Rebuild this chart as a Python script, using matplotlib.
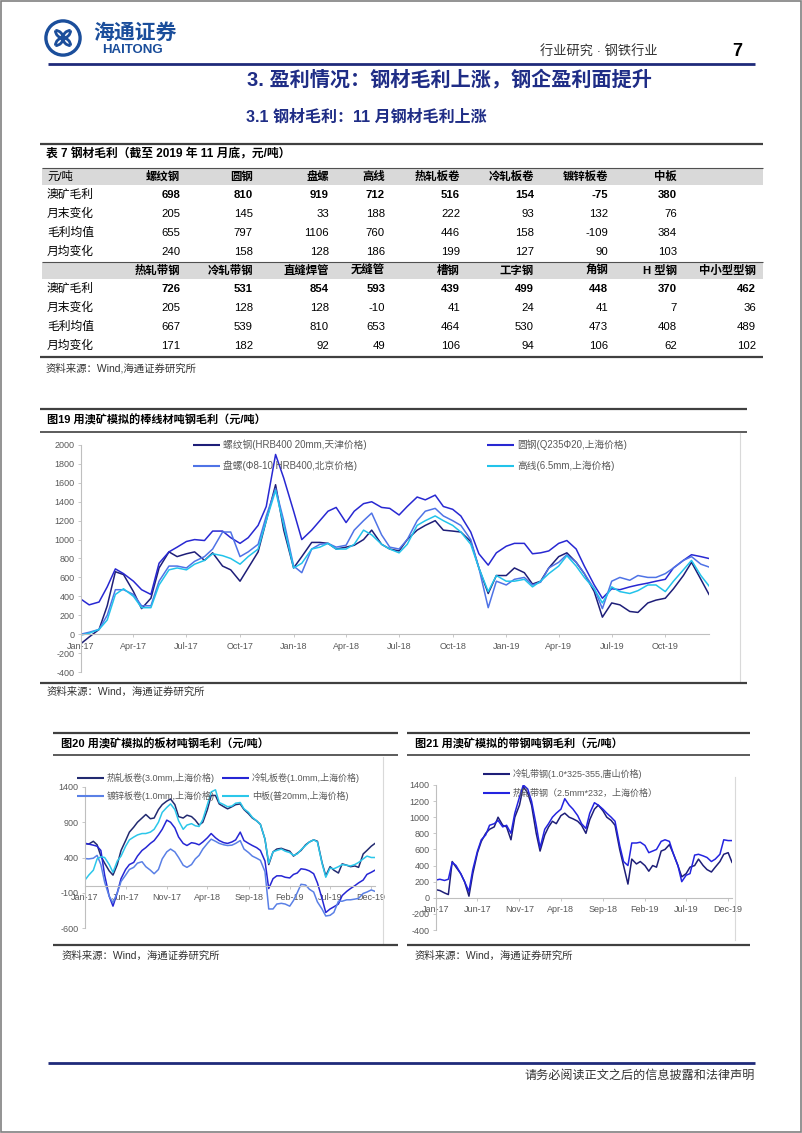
import matplotlib.pyplot as plt
import matplotlib.dates as mdates
from matplotlib.lines import Line2D
from matplotlib.patches import Rectangle, Circle, Arc
import numpy as np
import pandas as pd

W, H = 802, 1133
plt.rcParams['font.family'] = ['Liberation Sans', 'Noto Sans CJK SC']
plt.rcParams['axes.unicode_minus'] = False

NAVY = '#1F2D86'
LOGO = '#1B4E9B'
FRAME = '#404040'
AXIS = '#BFBFBF'
TICK = '#595959'

# ---- table 7 ----
row_labels = ['澳矿毛利', '月末变化', '毛利均值', '月均变化']
cols_a = ['螺纹钢', '圆钢', '盘螺', '高线', '热轧板卷', '冷轧板卷', '镀锌板卷', '中板']
aus_margin_a = [698, 810, 919, 712, 516, 154, -75, 380]
month_chg_a = [205, 145, 33, 188, 222, 93, 132, 76]
avg_margin_a = [655, 797, 1106, 760, 446, 158, -109, 384]
avg_chg_a = [240, 158, 128, 186, 199, 127, 90, 103]
cols_b = ['热轧带钢', '冷轧带钢', '直缝焊管', '无缝管', '槽钢', '工字钢', '角钢', 'H 型钢', '中小型型钢']
aus_margin_b = [726, 531, 854, 593, 439, 499, 448, 370, 462]
month_chg_b = [205, 128, 128, -10, 41, 24, 41, 7, 36]
avg_margin_b = [667, 539, 810, 653, 464, 530, 473, 408, 489]
avg_chg_b = [171, 182, 92, 49, 106, 94, 106, 62, 102]

# ---- chart data, semi-monthly from Jan-17 to mid Dec-19 ----
dates = pd.date_range('2017-01-01', '2019-12-15', freq='SMS')

# fig 19
luowen = [
    -100, -30, 50, 300, 660, 630, 450, 270, 380, 700, 870, 820,
    850, 870, 780, 860, 720, 680, 560, 700, 870, 1200, 1580, 1100,
    700, 820, 970, 970, 960, 900, 920, 940, 1000, 1100, 950, 900,
    880, 1000, 1100, 1150, 1200, 1100, 1090, 1080, 980, 700, 430, 620,
    620, 700, 650, 530, 560, 700, 820, 860, 760, 640, 450, 180,
    330, 310, 240, 230, 330, 360, 380, 480, 620, 760, 580, 420,
]
yuangang = [
    370, 310, 340, 500, 690, 640, 560, 470, 420, 750, 870, 920,
    980, 1000, 990, 1090, 1090, 1020, 960, 1020, 1150, 1350, 1900, 1650,
    1300, 1000, 1100, 1200, 1300, 1340, 1180, 1300, 1380, 1400, 1340, 1330,
    1260, 1350, 1450, 1420, 1470, 1350, 1320, 1250, 1080, 850, 730, 860,
    930, 960, 960, 850, 860, 880, 960, 990, 900, 720, 520, 380,
    480, 470, 500, 520, 540, 560, 580, 700, 780, 840, 820, 800,
]
panluo = [
    0, 20, 50, 200, 470, 470, 420, 300, 300, 560, 720, 720,
    700, 770, 820, 900, 1080, 1080, 820, 870, 950, 1250, 1540, 1200,
    720, 650, 900, 950, 960, 920, 940, 1100, 1200, 1280, 1050, 920,
    900, 1000, 1200, 1300, 1330, 1250, 1200, 1150, 1000, 700, 280, 560,
    520, 580, 600, 520, 550, 700, 760, 840, 760, 640, 480, 270,
    560, 600, 570, 620, 600, 600, 640, 700, 780, 820, 740, 710,
]
gaoxian = [
    -10, 10, 50, 150, 420, 480, 400, 280, 280, 520, 680, 700,
    680, 740, 780, 850, 830, 800, 740, 820, 900, 1200, 1520, 1150,
    700, 750, 900, 920, 960, 900, 900, 950, 1100, 1050, 950, 900,
    860, 950, 1150, 1200, 1250, 1200, 1150, 1080, 950, 700, 450, 620,
    560, 560, 580, 500, 560, 640, 720, 830, 720, 600, 480, 330,
    500, 450, 430, 460, 520, 520, 450, 560, 680, 780, 620, 510,
]

# fig 20
rezha_juan = [
    600, 590, 630, 580, 420, 320, 210, 150, 300, 500, 640, 760,
    830, 900, 960, 1010, 950, 960, 1080, 1150, 1200, 1230, 1150, 980,
    960, 1000, 980, 930, 860, 900, 1080, 1280, 1280, 1160, 1120, 1090,
    1120, 1150, 1160, 1080, 1020, 960, 920, 870, 660, 300, 480, 520,
    530, 510, 490, 420, 460, 500, 580, 620, 650, 630, 330, 140,
    270, 220, 180, 310, 290, 270, 280, 260, 450, 500, 560, 600,
]
lengzha_juan = [
    600, 590, 575, 560, 500, 150, -150, -290, -100, 100, 230, 300,
    330, 420, 500, 540, 600, 640, 720, 800, 930, 900, 820, 690,
    600, 570, 610, 600, 580, 620, 680, 740, 680, 640, 610, 600,
    620, 650, 760, 640, 600, 570, 540, 500, 350, -40, 100, 140,
    140, 120, 110, 160, 180, 240, 230, 210, 170, 40, -180, -380,
    -330, -300, -260, -140, -80, -40, 0, 40, 80, 160, 190, 220,
]
duxin_juan = [
    385, 380, 390, 430, 300, 50, -150, -240, -100, 60, 150, 230,
    260, 320, 340, 270, 220, 170, 230, 380, 480, 520, 480, 400,
    290, 260, 300, 380, 430, 520, 600, 660, 630, 600, 580, 570,
    575, 600, 640, 520, 470, 420, 390, 360, 200, -330, -330, -260,
    -250, -260, -290, -210, -100, 20, 10, -50, -90, -230, -330, -430,
    -420, -380, -220, -220, -200, -200, -190, -180, -110, -90, -60, -80,
]
zhongban = [
    80, 150, 220, 380, 410, 400, 300, 190, 350, 420, 560, 650,
    690, 720, 740, 740, 760, 800, 900, 1040, 1110, 1160, 1080, 920,
    800, 860, 880, 850, 840, 940, 1150, 1330, 1360, 1180, 1150, 1120,
    1130, 1170, 1180, 1090, 1040, 970, 920, 870, 660, 320, 480, 500,
    520, 490, 470, 430, 450, 510, 570, 620, 650, 620, 320, 120,
    250, 240, 270, 300, 290, 280, 300, 330, 380, 420, 400, 400,
]

# fig 21
lengzha_dai = [
    100, 90, 60, 40, 450, 380, 300, 200, 20, 300, 560, 700,
    800, 850, 880, 1000, 900, 880, 720, 1000, 1150, 1380, 1300, 1150,
    800, 580, 780, 880, 950, 920, 1020, 1050, 1000, 980, 950, 900,
    800, 970, 1100, 1150, 1080, 1000, 960, 900, 600, 400, 170, 480,
    420, 450, 400, 330, 400, 380, 580, 600, 660, 550, 400, 260,
    300, 380, 400, 480, 400, 350, 320, 380, 450, 540, 560, 440,
]
rezha_dai = [
    220, 230, 215, 230, 440, 400, 300, 200, 80, 350, 580, 720,
    780, 900, 920, 960, 880, 900, 800, 1050, 1250, 1400, 1350, 1200,
    900, 620, 850, 920, 1000, 1050, 1100, 1230, 1150, 1100, 1020, 920,
    860, 1050, 1180, 1150, 1100, 1050, 1000, 950, 650, 450, 400, 680,
    680, 690, 650, 560, 580, 600, 700, 720, 700, 550, 400, 200,
    280, 300, 530, 540, 520, 500, 450, 480, 540, 720, 710, 710,
]

fig = plt.figure(figsize=(W / 100, H / 100), dpi=100)


def fx(x):
    return x / W


def fy(y):
    return 1 - y / H


def hline(x0, x1, y, lw=1.0, color=FRAME):
    fig.add_artist(Line2D([fx(x0), fx(x1)], [fy(y), fy(y)], lw=lw, color=color,
                          solid_capstyle='butt'))


def vline(x, y0, y1, lw=0.8, color='#D9D9D9'):
    fig.add_artist(Line2D([fx(x), fx(x)], [fy(y0), fy(y1)], lw=lw, color=color))


def text(x, y, s, size, **kw):
    kw.setdefault('va', 'center')
    fig.text(fx(x), fy(y), s, fontsize=size, **kw)


def axes_px(x0, y0, x1, y1):
    return fig.add_axes([fx(x0), fy(y1), (x1 - x0) / W, (y1 - y0) / H])


def legend_item(x, y, color, label, size=6.8):
    hline(x, x + 27, y, lw=1.5, color=color)
    text(x + 30, y, label, size, color=TICK)


def style_chart(ax, ylim, yticks, xticks=None):
    ax.set_facecolor('none')
    ax.set_xlim(dates[0], dates[-1])
    ax.set_ylim(*ylim)
    ax.set_yticks(yticks)
    for side in ('top', 'right'):
        ax.spines[side].set_visible(False)
    ax.spines['bottom'].set_position(('data', 0))
    for side in ('left', 'bottom'):
        ax.spines[side].set_color(AXIS)
        ax.spines[side].set_linewidth(0.8)
    if xticks is None:
        ax.xaxis.set_major_locator(mdates.MonthLocator(bymonth=[1, 4, 7, 10]))
    else:
        ax.set_xticks(pd.to_datetime(xticks))
    ax.xaxis.set_major_formatter(mdates.DateFormatter('%b-%y'))
    ax.tick_params(axis='both', labelsize=6.5, labelcolor=TICK, color=AXIS,
                   length=2.5, width=0.6)
    ax.tick_params(axis='y', pad=2)
    ax.tick_params(axis='x', pad=3)


# page border
fig.add_artist(Rectangle((0.0015, 0.001), 0.997, 0.998, fill=False, ec='#808080',
                         lw=1.2, transform=fig.transFigure))

# ---- header ----
ax_logo = axes_px(44, 19, 82, 57)
ax_logo.set_xlim(-1, 1)
ax_logo.set_ylim(-1, 1)
ax_logo.set_aspect('equal')
ax_logo.axis('off')
ax_logo.add_patch(Circle((0, 0), 0.9, fill=False, ec=LOGO, lw=2.4))
for ang in (0, 90, 180, 270):
    cx, cy = 0.4 * np.cos(np.radians(ang)), 0.4 * np.sin(np.radians(ang))
    ax_logo.add_patch(Arc((cx, cy), 0.8, 0.8, theta1=ang + 90, theta2=ang + 270,
                          ec=LOGO, lw=2.0))
ax_logo.add_patch(Circle((0, 0), 0.1, color=LOGO))

text(93, 33, '海通证券', 15, weight='bold', color=LOGO, style='italic')
text(102, 50, 'HAITONG', 9.5, weight='bold', color=LOGO)
text(540, 52, '行业研究 · 钢铁行业', 9.5, color='#333333')
text(737, 51, '7', 13, weight='bold', ha='center')
hline(48, 755, 64, lw=2.0, color='#1F2A7A')

text(449, 80, '3. 盈利情况：钢材毛利上涨，钢企盈利面提升', 14.5, weight='bold',
     color=NAVY, ha='center')
text(246, 117, '3.1 钢材毛利：11 月钢材毛利上涨', 11.5, weight='bold', color=NAVY)

# ---- table ----
col_right = [180, 253, 329, 385, 460, 534, 608, 677, 756]
hline(40, 763, 144, lw=1.6)
text(46, 155, '表 7 钢材毛利（截至 2019 年 11 月底，元/吨）', 8.5, weight='bold')


def table_block(y_band, cols, rows, first_label):
    fig.add_artist(Rectangle((fx(42), fy(y_band + 17)), (763 - 42) / W, 17 / H,
                             fc='#D9D9D9', ec='none', transform=fig.transFigure))
    hline(42, 763, y_band, lw=0.8, color='#505050')
    yh = y_band + 8.5
    if first_label:
        text(47, yh, first_label, 8.2)
    for name, xr in zip(cols, col_right):
        text(xr, yh, name, 8.2, weight='bold', ha='right')
    row_y = [y_band + 27, y_band + 46, y_band + 65, y_band + 84]
    for i, (lab, vals) in enumerate(zip(row_labels, rows)):
        y = row_y[i]
        text(47, y, lab, 8.5)
        for v, xr in zip(vals, col_right):
            text(xr, y, str(v), 8.2, ha='right', weight='bold' if i == 0 else 'normal')


table_block(168, cols_a, [aus_margin_a, month_chg_a, avg_margin_a, avg_chg_a], '元/吨')
table_block(262, cols_b, [aus_margin_b, month_chg_b, avg_margin_b, avg_chg_b], None)
hline(40, 763, 357, lw=1.6)
text(46, 368, '资料来源：Wind,海通证券研究所', 7.5, color='#333333')

# ---- fig 19 ----
hline(40, 747, 409, lw=1.6)
text(47, 420, '图19 用澳矿模拟的棒线材吨钢毛利（元/吨）', 8, weight='bold')
hline(40, 747, 432, lw=1.2)
vline(740, 433, 682)
hline(40, 747, 683, lw=1.6)
text(47, 692, '资料来源：Wind，海通证券研究所', 7.5, color='#333333')

c19 = ['#1E1E78', '#2828D2', '#4F73E6', '#22C3EA']
ax19 = axes_px(81, 445, 709, 672)
for vals, c in zip([luowen, yuangang, panluo, gaoxian], c19):
    ax19.plot(dates, vals, color=c, lw=1.1)
style_chart(ax19, (-400, 2000), range(-400, 2001, 200))
legend_item(193, 445, c19[0], '螺纹钢(HRB400 20mm,天津价格)', 7)
legend_item(193, 466, c19[2], '盘螺(Φ8-10 HRB400,北京价格)', 7)
legend_item(487, 445, c19[1], '圆钢(Q235Φ20,上海价格)', 7)
legend_item(487, 466, c19[3], '高线(6.5mm,上海价格)', 7)

ticks5 = ['2017-01-01', '2017-06-01', '2017-11-01', '2018-04-01', '2018-09-01',
          '2019-02-01', '2019-07-01', '2019-12-01']

# ---- fig 20 ----
hline(53, 398, 733, lw=1.6)
text(61, 744, '图20 用澳矿模拟的板材吨钢毛利（元/吨）', 8, weight='bold')
hline(53, 398, 755, lw=1.2)
vline(383, 757, 943)
hline(53, 398, 945, lw=1.6)
text(62, 956, '资料来源：Wind，海通证券研究所', 7.5, color='#333333')

c20 = ['#222A70', '#2626D4', '#5A80E6', '#2BC7EA']
ax20 = axes_px(85, 787, 375, 928)
for vals, c in zip([rezha_juan, lengzha_juan, duxin_juan, zhongban], c20):
    ax20.plot(dates, vals, color=c, lw=1.1)
style_chart(ax20, (-600, 1400), range(-600, 1401, 500), ticks5)
legend_item(77, 778, c20[0], '热轧板卷(3.0mm,上海价格)', 6.5)
legend_item(222, 778, c20[1], '冷轧板卷(1.0mm,上海价格)', 6.5)
legend_item(77, 796, c20[2], '镀锌板卷(1.0mm,上海价格)', 6.5)
legend_item(222, 796, c20[3], '中板(普20mm,上海价格)', 6.5)

# ---- fig 21 ----
hline(407, 750, 733, lw=1.6)
text(415, 744, '图21 用澳矿模拟的带钢吨钢毛利（元/吨）', 8, weight='bold')
hline(407, 750, 755, lw=1.2)
vline(735, 777, 940)
hline(407, 750, 945, lw=1.6)
text(415, 956, '资料来源：Wind，海通证券研究所', 7.5, color='#333333')

c21 = ['#1E1E78', '#2424E0']
ax21 = axes_px(436, 785, 732, 930)
for vals, c in zip([lengzha_dai, rezha_dai], c21):
    ax21.plot(dates, vals, color=c, lw=1.1)
style_chart(ax21, (-400, 1400), range(-400, 1401, 200), ticks5)
legend_item(483, 774, c21[0], '冷轧带钢(1.0*325-355,唐山价格)', 6.5)
legend_item(483, 793, c21[1], '热轧带钢（2.5mm*232，上海价格）', 6.5)

# ---- footer ----
hline(48, 755, 1063, lw=2.0, color='#1F2A7A')
text(755, 1076, '请务必阅读正文之后的信息披露和法律声明', 8.7, ha='right', color='#333333')

fig.savefig('out.png', dpi=100)
